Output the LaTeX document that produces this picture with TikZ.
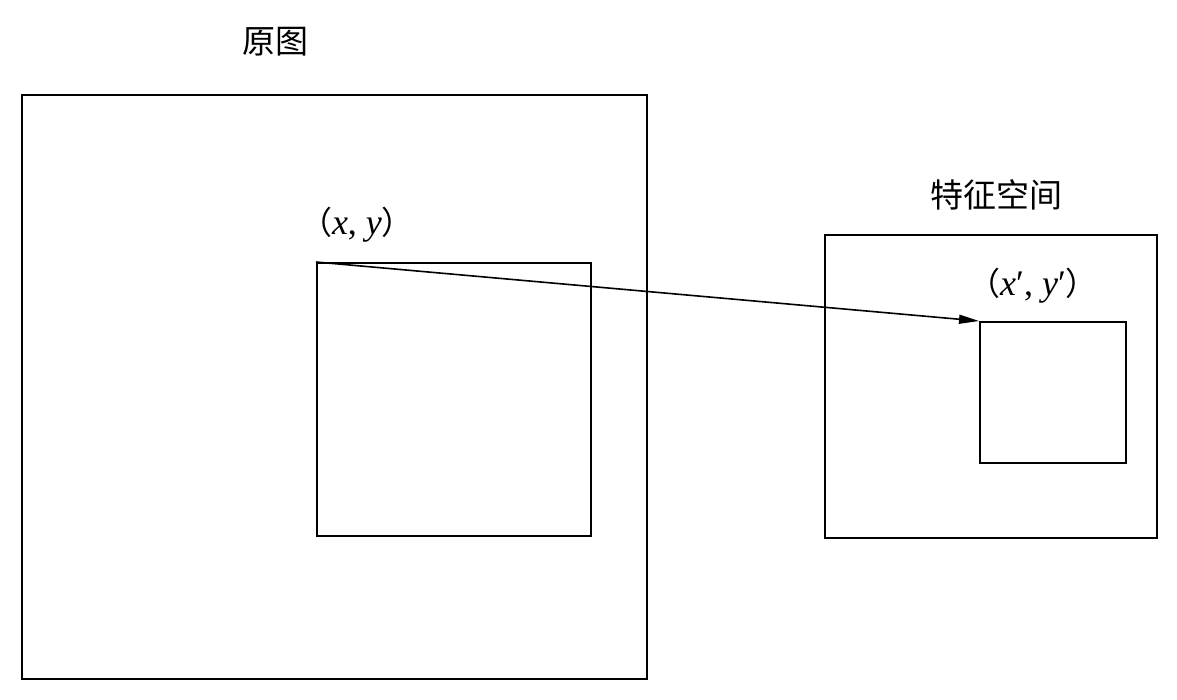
\documentclass[tikz,border=0pt]{standalone}
\usepackage{fontspec}
\setmainfont{Liberation Serif}
\newfontfamily\cjk{Noto Sans CJK SC}
\usetikzlibrary{arrows.meta}
\begin{document}
\begin{tikzpicture}[x=1pt,y=-1pt,
  box/.style={draw,line width=1.8pt,inner sep=0pt,anchor=north west},
  lbl/.style={inner sep=0pt,font=\fontsize{33}{38}\selectfont},
  mth/.style={inner sep=0pt,font=\fontsize{36}{40}\selectfont}]
\useasboundingbox (0,0) rectangle (1177,699);
\node[box,minimum width=625pt,minimum height=584pt] (orig) at (21,94) {};
\node[box,minimum width=274pt,minimum height=273pt] (win) at (316,262) {};
\node[box,minimum width=332pt,minimum height=303pt] (feat) at (824,234) {};
\node[box,minimum width=146pt,minimum height=141pt] (fwin) at (979,321) {};
\node[lbl] (t1) at (275,42) {\cjk 原图};
\node[lbl] (t2) at (996,195) {\cjk 特征空间};
\node[mth] (p1) at (357,225) {{\cjk\fontsize{32}{36}\selectfont （}\textit{x}, \textit{y}{\cjk\fontsize{32}{36}\selectfont ）}};
\node[mth] (p2) at (1033,286) {{\cjk\fontsize{32}{36}\selectfont （}\textit{x}′, \textit{y}′{\cjk\fontsize{32}{36}\selectfont ）}};
\draw[line width=1.6pt,-{Triangle[length=20pt,width=9pt]}] (win.north west) -- (fwin.north west);
\end{tikzpicture}
\end{document}
